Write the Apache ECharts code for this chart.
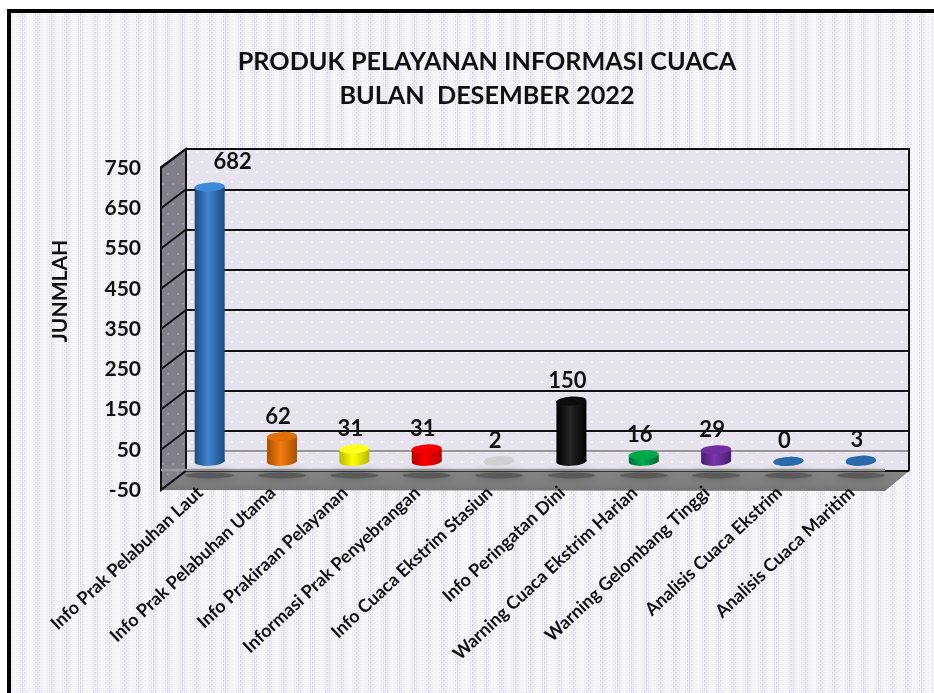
<!DOCTYPE html>
<html><head><meta charset="utf-8">
<style>html,body{margin:0;padding:0;background:#fff}#c{width:934px;height:693px}</style>
<script src="https://cdn.jsdelivr.net/npm/echarts@6/dist/echarts.min.js"></script>
</head><body><div id="c"></div>
<script>
const categories = ['Info Prak Pelabuhan Laut','Info Prak Pelabuhan Utama','Info Prakiraan Pelayanan','Informasi Prak Penyebrangan','Info Cuaca Ekstrim Stasiun','Info Peringatan Dini','Warning Cuaca Ekstrim Harian','Warning Gelombang Tinggi','Analisis Cuaca Ekstrim','Analisis Cuaca Maritim'];
const values = [682,62,31,31,2,150,16,29,0,3];
const tickValues = [-50,50,150,250,350,450,550,650,750];
const titleText = 'PRODUK PELAYANAN INFORMASI CUACA\nBULAN  DESEMBER 2022';
const axisTitle = 'JUNMLAH';
// [edge, centre, cap]
const palette = [
 ['#1d4a7d','#3f86d2','#3f8ad8'],['#a85000','#f27c10','#e0700a'],['#b8b800','#ffff00','#ffff20'],
 ['#b00000','#ff0000','#f00000'],['#c8c8c8','#dddddd','#d0d0d0'],['#000000','#262626','#0c0c0c'],
 ['#006a35','#00b050','#00a84c'],['#46206c','#7a35ad','#7030a0'],['#1f5a98','#2e6fb0','#2a69ab'],['#1f5a98','#2e6fb0','#2a69ab']];

const W = 934, H = 693;
const front = {l:161, r:885, t:168, b:490};
const back  = {l:186, r:909, t:149, b:471};
const mid   = {l:173.5, r:897, t:159.5, b:481.5};
const labelShift = 3;
const gridOf = g => ({left:g.l, top:g.t, width:g.r-g.l, height:g.b-g.t, containLabel:false});

function tile(w,h,base,draw){const c=document.createElement('canvas');c.width=w;c.height=h;const x=c.getContext('2d');
  if(base){x.fillStyle=base;x.fillRect(0,0,w,h);} draw(x);return c;}
const pageTile = tile(29,4,'#ffffff',x=>{
  const a=[.4,.3,.6,.8,1,.85,.55,.35,.4,.55,.8,1,.8,.5,.3];
  a.forEach((v,i)=>{x.fillStyle='rgba(198,190,222,'+v*0.85+')';x.fillRect(i*2,i%2*2,1.5,1.5);x.fillStyle='rgba(198,190,222,'+v*0.5+')';x.fillRect(i*2,(i%2*2+2)%4,1.5,1.5);});
});
const dots=(col)=>x=>{x.fillStyle=col;[[2,2],[12,2],[7,12],[17,12]].forEach(p=>{x.beginPath();x.arc(p[0],p[1],1.3,0,7);x.fill();});};
const wallTile = tile(20,20,'#e7e3ee',dots('rgba(255,255,255,.8)'));
const sideTile = tile(10,20,'#837e8c',x=>{x.fillStyle='#9c97a6';[[2,3],[7,13]].forEach(p=>x.fillRect(p[0],p[1],2,2));});
const pat = c => ({image:c, repeat:'repeat'});

const floorGrad = {type:'linear',x:0,y:0,x2:0,y2:1,colorStops:[{offset:0,color:'#868686'},{offset:.6,color:'#7e7e7e'},{offset:1,color:'#747474'}]};
const graphics = [
 {type:'rect',z:-100,shape:{x:7,y:9,width:W-7,height:H-9},style:{fill:'#000'}},
 {type:'rect',z:-99,shape:{x:11,y:13,width:W-11,height:H-13},style:{fill:pat(pageTile)}},
 {type:'rect',z:-90,shape:{x:back.l,y:back.t,width:back.r-back.l,height:back.b-back.t},style:{fill:pat(wallTile)}},
 {type:'polygon',z:-80,shape:{points:[[front.l,front.t-1],[back.l,back.t],[back.l,back.b],[front.l,front.b]]},style:{fill:pat(sideTile),stroke:'#111',lineWidth:2}},
 {type:'polygon',z:-80,shape:{points:[[front.l,front.b],[back.l,back.b],[back.r,back.b],[front.r,front.b+1]]},style:{fill:floorGrad}},
 {type:'polyline',z:1,shape:{points:[[back.l,back.b],[back.l,back.t],[back.r,back.t],[back.r,back.b]]},style:{stroke:'#111',lineWidth:2,fill:'none'}},
 {type:'line',z:1,shape:{x1:front.l,y1:back.b-1,x2:front.r,y2:back.b-1},style:{stroke:'#9a9a9a',lineWidth:2.5}}
];

const FONT = 'Lato';
const barW = 30, capH = 9;
const bodyFill = i => ({type:'linear',x:0,y:0,x2:1,y2:0,colorStops:[{offset:0,color:palette[i][0]},{offset:.45,color:palette[i][1]},{offset:1,color:palette[i][0]}]});
const bodyData = values.map((v,i)=>({value:v,itemStyle:{color:bodyFill(i)},
  label:{offset:i===0?[23,-5]:[-4,0]}}));
const capData = values.map((v,i)=>({value:v,itemStyle:{color:palette[i][2]}}));
const baseData = values.map((v,i)=>({value:v,itemStyle:{color:bodyFill(i)}}));

const axisOff = {show:false};
const option = {
 animation:false, backgroundColor:'#ffffff',
 textStyle:{fontFamily:FONT},
 graphic:graphics,
 title:{text:titleText,left:482,top:40,textAlign:'center',textStyle:{fontFamily:FONT,fontWeight:'bold',fontSize:25.2,lineHeight:34,color:'#111'}},
 grid:[gridOf({l:front.l+labelShift,r:front.r+labelShift,t:front.t,b:front.b}),gridOf(back),gridOf(mid)],
 xAxis:[
  {gridIndex:0,type:'category',data:categories,axisLine:axisOff,axisTick:axisOff,
   axisLabel:{interval:0,rotate:43,margin:0,fontFamily:FONT,fontWeight:'bold',fontSize:18,color:'#111'}},
  {gridIndex:1,type:'category',data:categories,axisTick:axisOff,axisLabel:axisOff,
   axisLine:{show:true,onZero:true,lineStyle:{color:'#999',width:2}}},
  {gridIndex:2,type:'category',data:categories,axisLine:axisOff,axisTick:axisOff,axisLabel:axisOff}
 ],
 yAxis:[
  {gridIndex:0,type:'value',min:-50,max:750,axisLine:axisOff,splitLine:axisOff,
   axisTick:{show:false,customValues:tickValues},
   axisLabel:{customValues:tickValues,margin:20+labelShift,fontFamily:FONT,fontWeight:'bold',fontSize:21,color:'#111'},
   name:axisTitle,nameLocation:'middle',nameRotate:90,nameGap:93,
   nameTextStyle:{fontFamily:FONT,fontWeight:'bold',fontSize:21,color:'#111',padding:[0,0,0,76]}},
  {gridIndex:1,type:'value',min:-50,max:750,axisLine:axisOff,axisLabel:axisOff,
   axisTick:{show:false,customValues:tickValues},
   splitLine:{show:true,lineStyle:{color:'#111',width:2}}},
  {gridIndex:2,type:'value',min:-50,max:750,axisLine:axisOff,axisLabel:axisOff,splitLine:axisOff,
   axisTick:{show:false,customValues:tickValues}}
 ],
 series:[
  {type:'custom',xAxisIndex:1,yAxisIndex:1,z:1,silent:true,data:tickValues.map(v=>[0,v]),
   renderItem:(p,api)=>{
     const y=api.coord([0,api.value(1)])[1];
     return {type:'line',shape:{x1:back.l,y1:y,x2:front.l,y2:y+(front.b-back.b)},style:{stroke:'#111',lineWidth:2}};
   }},
  {type:'pictorialBar',name:'floorShadow',xAxisIndex:2,yAxisIndex:2,z:1,silent:true,symbol:'circle',
   symbolSize:[48,6],symbolPosition:'end',symbolOffset:[0,'-50%'],
   data:categories.map(()=>tickValues[0]),
   itemStyle:{color:'rgba(70,70,70,.55)',shadowBlur:10,shadowColor:'rgba(50,50,50,.8)'}},
  {type:'pictorialBar',name:'base',xAxisIndex:2,yAxisIndex:2,z:3,silent:true,symbol:'circle',
   symbolSize:[barW,capH],symbolPosition:'start',symbolOffset:[0,'50%'],symbolRotate:3,data:baseData},
  {type:'bar',name:'Jumlah',xAxisIndex:2,yAxisIndex:2,z:4,barWidth:barW,data:bodyData,
   label:{show:true,position:'top',distance:9,fontFamily:FONT,fontWeight:'bold',fontSize:22,color:'#111'}},
  {type:'pictorialBar',name:'cap',xAxisIndex:2,yAxisIndex:2,z:5,silent:true,symbol:'circle',
   symbolSize:[barW,capH],symbolPosition:'end',symbolOffset:[0,'-50%'],symbolRotate:3,data:capData}
 ]
};
const chart = echarts.init(document.getElementById('c'),null,{renderer:'canvas'});
chart.setOption(option);
</script></body></html>
